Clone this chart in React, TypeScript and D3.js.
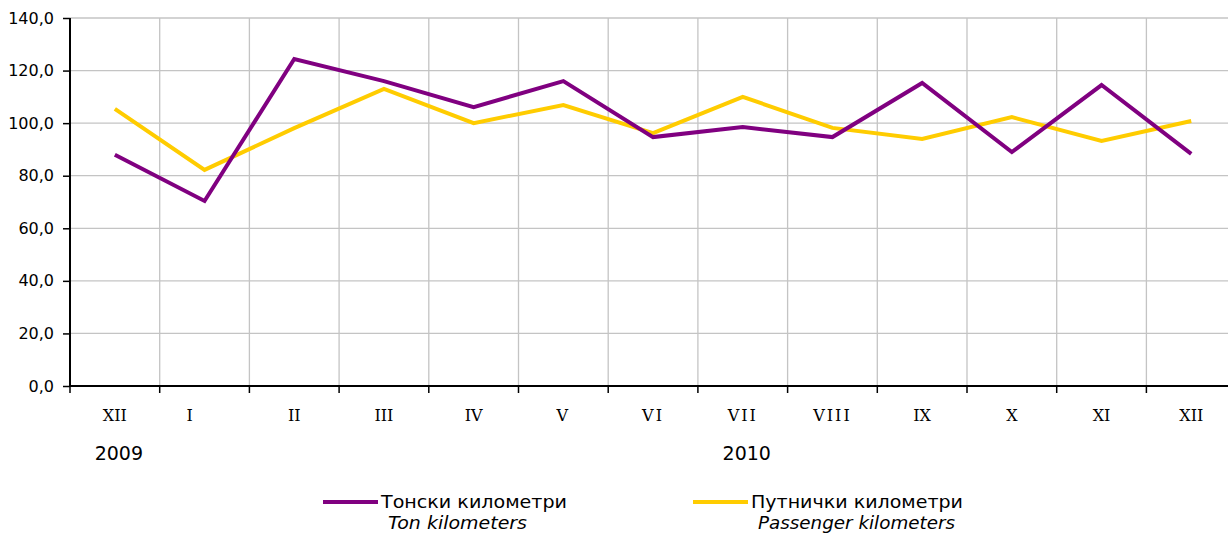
import { useEffect, useRef } from 'react';
import * as d3 from 'd3';

const months = ['XII', 'I', 'II', 'III', 'IV', 'V', 'VI', 'VII', 'VIII', 'IX', 'X', 'XI', 'XII'];
const tonKm = [88.0, 70.4, 124.4, 116.0, 106.1, 116.0, 94.7, 98.5, 94.7, 115.3, 89.0, 114.5, 88.3];
const passengerKm = [105.4, 82.2, 98.1, 113.0, 100.0, 106.9, 96.2, 110.0, 98.2, 94.0, 102.3, 93.2, 100.8];
const yTicks = [0, 20, 40, 60, 80, 100, 120, 140];
const years = [
  { label: '2009', index: 0 },
  { label: '2010', index: 7 },
];

const W = 1228;
const H = 533;

export default function App() {
  const svgRef = useRef<SVGSVGElement>(null);

  useEffect(() => {
    document.body.style.margin = '0';
    if (!svgRef.current) return;
    const svg = d3.select(svgRef.current);
    svg.selectAll('*').remove();

    const left = 70;
    const top = 18;
    const bottom = 386;
    const step = 89.7;
    const keys = months.map((_, i) => String(i));

    const x = d3.scaleBand<string>()
      .domain(keys)
      .range([left, left + step * months.length]);
    const y = d3.scaleLinear().domain([0, 140]).range([bottom, top]);
    const cx = (i: number) => (x(String(i)) || 0) + x.bandwidth() / 2;

    const font = 'Tahoma, "DejaVu Sans", Verdana, sans-serif';

    // grid
    const grid = svg.append('g').attr('stroke', '#c4c4c4').attr('stroke-width', 1.3);
    yTicks.filter(t => t > 0).forEach(t => {
      grid.append('line').attr('x1', left).attr('x2', W).attr('y1', y(t)).attr('y2', y(t));
    });
    keys.slice(1).forEach(k => {
      const xx = x(k) || 0;
      grid.append('line').attr('x1', xx).attr('x2', xx).attr('y1', top).attr('y2', bottom);
    });

    // axes
    const yAxis = svg.append('g')
      .attr('transform', `translate(${left},0)`)
      .call(d3.axisLeft(y).tickValues(yTicks).tickSize(7).tickPadding(9)
        .tickFormat(d => d3.format('.1f')(d as number).replace('.', ',')));
    yAxis.select('.domain').remove();
    yAxis.selectAll('line').attr('stroke', '#000').attr('stroke-width', 1.5);
    yAxis.selectAll('text').style('font-family', font).style('font-size', '16px').attr('fill', '#000');
    svg.append('line').attr('x1', left).attr('x2', left).attr('y1', top).attr('y2', bottom)
      .attr('stroke', '#000').attr('stroke-width', 2);

    svg.append('line').attr('x1', left).attr('x2', W).attr('y1', bottom).attr('y2', bottom)
      .attr('stroke', '#000').attr('stroke-width', 2);
    keys.forEach(k => {
      const xx = x(k) || 0;
      svg.append('line').attr('x1', xx).attr('x2', xx).attr('y1', bottom).attr('y2', bottom + 7)
        .attr('stroke', '#000').attr('stroke-width', 1.5);
    });

    svg.append('g').selectAll('text')
      .data(months)
      .enter().append('text')
      .attr('x', (_, i) => cx(i) + (i === 1 ? -15 : 0))
      .attr('y', 421)
      .attr('text-anchor', 'middle')
      .style('font-family', '"DejaVu Serif", serif')
      .style('font-size', '16px')
      .style('letter-spacing', d => (d.startsWith('V') ? '2px' : '0px'))
      .text(d => d);

    svg.append('g').selectAll('text')
      .data(years)
      .enter().append('text')
      .attr('x', d => cx(d.index) + 4)
      .attr('y', 460)
      .attr('text-anchor', 'middle')
      .style('font-family', font)
      .style('font-size', '19px')
      .text(d => d.label);

    // lines
    const line = d3.line<number>().x((_, i) => cx(i)).y(d => y(d));
    const series = [
      { values: tonKm, color: '#800080', name: 'Тонски километри', en: 'Ton kilometers', lx: 323, w1: 186, w2: 139 },
      { values: passengerKm, color: '#ffcc00', name: 'Путнички километри', en: 'Passenger kilometers', lx: 693, w1: 212, w2: 197 },
    ];
    [series[1], series[0]].forEach(s => {
      svg.append('path')
        .attr('d', line(s.values) || '')
        .attr('fill', 'none')
        .attr('stroke', s.color)
        .attr('stroke-width', 4);
    });

    // legend
    series.forEach(s => {
      svg.append('line').attr('x1', s.lx).attr('x2', s.lx + 55).attr('y1', 502).attr('y2', 502)
        .attr('stroke', s.color).attr('stroke-width', 4);
      svg.append('text').attr('x', s.lx + 58).attr('y', 508)
        .attr('textLength', s.w1).attr('lengthAdjust', 'spacingAndGlyphs')
        .style('font-family', font).style('font-size', '17.5px').text(s.name);
      svg.append('text').attr('x', s.lx + 65).attr('y', 529)
        .attr('textLength', s.w2).attr('lengthAdjust', 'spacingAndGlyphs')
        .style('font-family', font).style('font-size', '17.5px').style('font-style', 'italic').text(s.en);
    });
  }, []);

  return <svg ref={svgRef} width={W} height={H} style={{ display: 'block', background: '#fff' }} />;
}
